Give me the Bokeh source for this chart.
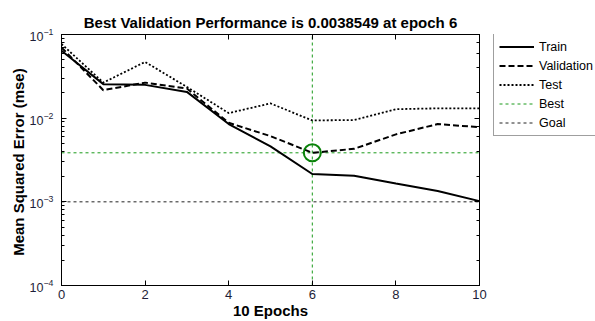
import math
from bokeh.plotting import figure
from bokeh.layouts import row
from bokeh.models import (LogAxis, LinearAxis, Legend, LegendItem, Range1d,
                          FixedTicker, CustomJSTickFormatter)
from bokeh.embed import file_html
from bokeh.resources import INLINE

# ---- data ----
epochs = [0, 1, 2, 3, 4, 5, 6, 7, 8, 9, 10]
train = [0.064, 0.0255, 0.025, 0.0206, 0.0085, 0.0046, 0.00215, 0.00205, 0.00166, 0.00135, 0.00102]
validation = [0.070, 0.0216, 0.0266, 0.0226, 0.0088, 0.0061, 0.0038549, 0.0043, 0.0064, 0.0085, 0.0078]
test = [0.077, 0.0266, 0.047, 0.0236, 0.0115, 0.0150, 0.0094, 0.0095, 0.0128, 0.0131, 0.0131]
best_epoch = 6
best_perf = 0.0038549
goal = 0.001
x_ticks = [0, 2, 4, 6, 8, 10]
x_limits = [0, 10]
y_limits = [1e-4, 1e-1]
title_text = "Best Validation Performance is 0.0038549 at epoch 6"
x_label = "10 Epochs"
y_label = "Mean Squared Error  (mse)"
series_names = ["Train", "Validation", "Test", "Best", "Goal"]

FONT = "Liberation Sans"
TICK_COLOR = "#1e1e38"
BEST_LINE = "#1a9a1a"
BEST_MARK = "#0a820a"
GOAL_LINE = "#222222"

# styles shared by the plot and its legend proxies
styles = {
    "Train": dict(line_color="black", line_width=2),
    "Validation": dict(line_color="black", line_width=2, line_dash="6 3"),
    "Test": dict(line_color="black", line_width=1.8, line_dash="2 2"),
    "Best": dict(line_color=BEST_LINE, line_width=1, line_dash="3 3"),
    "Goal": dict(line_color=GOAL_LINE, line_width=1, line_dash="3 3"),
}

p = figure(width=492, height=321,
           x_range=Range1d(*x_limits), y_range=Range1d(*y_limits),
           y_axis_type="log", output_backend="svg", toolbar_location=None,
           min_border_left=61, min_border_right=13,
           min_border_top=34, min_border_bottom=36,
           title=title_text)

p.title.text_font = FONT
p.title.text_font_size = "15px"
p.title.text_font_style = "bold"
p.title.text_color = "black"
p.title.align = "center"
p.title.standoff = 8

p.grid.visible = False
p.outline_line_color = "black"
p.outline_line_width = 1
p.background_fill_color = "white"
p.border_fill_color = "white"

# bottom axis
xa = p.xaxis[0]
xa.ticker = FixedTicker(ticks=x_ticks)
xa.axis_label = x_label
xa.axis_label_text_font = FONT
xa.axis_label_text_font_size = "15px"
xa.axis_label_text_font_style = "bold"
xa.axis_label_text_color = "black"
xa.axis_label_standoff = 0
xa.major_label_text_font = FONT
xa.major_label_text_font_size = "13px"
xa.major_label_text_color = TICK_COLOR
xa.major_label_standoff = 4
xa.major_tick_in = 5
xa.major_tick_out = 0
xa.minor_tick_line_color = None
xa.axis_line_color = "black"
xa.major_tick_line_color = "black"

# left axis
ya = p.yaxis[0]
ya.axis_label = y_label
ya.axis_label_text_font = FONT
ya.axis_label_text_font_size = "15px"
ya.axis_label_text_font_style = "bold"
ya.axis_label_text_color = "black"
ya.axis_label_standoff = 0
ya.major_label_text_font = FONT
ya.major_label_text_font_size = "12.5px"
ya.major_label_text_color = TICK_COLOR
ya.major_label_standoff = 8
ya.major_tick_in = 5
ya.major_tick_out = 0
ya.minor_tick_in = 3
ya.minor_tick_out = 0
ya.axis_line_color = "black"
ya.major_tick_line_color = "black"
ya.minor_tick_line_color = "black"

# right & top axes (ticks only, like a boxed MATLAB axes)
blank = CustomJSTickFormatter(code="return ''")
ra = LogAxis(formatter=blank, major_label_standoff=0,
             major_tick_in=5, major_tick_out=0, minor_tick_in=3, minor_tick_out=0,
             axis_line_color="black", major_tick_line_color="black",
             minor_tick_line_color="black")
p.add_layout(ra, "right")
ta = LinearAxis(ticker=FixedTicker(ticks=x_ticks), formatter=blank,
                major_label_standoff=0, major_tick_in=5, major_tick_out=0,
                minor_tick_line_color=None, axis_line_color="black",
                major_tick_line_color="black")
p.add_layout(ta, "above")

# best / goal reference lines
p.line(x=x_limits, y=[best_perf, best_perf], **styles["Best"])
p.line(x=[best_epoch, best_epoch], y=y_limits, **styles["Best"])
p.line(x=x_limits, y=[goal, goal], **styles["Goal"])

# series
p.line(epochs, train, **styles["Train"])
p.line(epochs, validation, **styles["Validation"])
p.line(epochs, test, **styles["Test"])

# best marker
p.scatter([best_epoch], [best_perf], marker="circle", size=17, fill_color=None,
          line_color=BEST_MARK, line_width=2)

# ---- legend panel to the right of the axes (clipped at the window edge) ----
lg = figure(width=103, height=321, output_backend="svg", toolbar_location=None,
            x_range=Range1d(0, 1), y_range=Range1d(0, 1),
            x_axis_location=None, y_axis_location=None,
            min_border=0, min_border_left=0, min_border_right=0,
            min_border_top=0, min_border_bottom=0)
lg.grid.visible = False
lg.outline_line_color = None
lg.border_fill_color = "white"
lg.background_fill_color = "white"

items = []
for name in series_names:
    r = lg.line(x=[math.nan], y=[math.nan], **styles[name])
    items.append(LegendItem(label=name, renderers=[r]))

legend = Legend(items=items, location=(1, 149))
legend.label_text_font = FONT
legend.label_text_font_size = "12.5px"
legend.label_text_color = "black"
legend.glyph_width = 35
legend.glyph_height = 15
legend.label_height = 15
legend.spacing = 4
legend.padding = 5
legend.label_standoff = 5
legend.margin = 0
legend.border_line_color = "#404040"
legend.border_line_width = 1
legend.background_fill_color = "white"
legend.background_fill_alpha = 1.0
lg.add_layout(legend)

layout = row(p, lg, spacing=0)
open("out.html", "w").write(file_html(layout, INLINE))
